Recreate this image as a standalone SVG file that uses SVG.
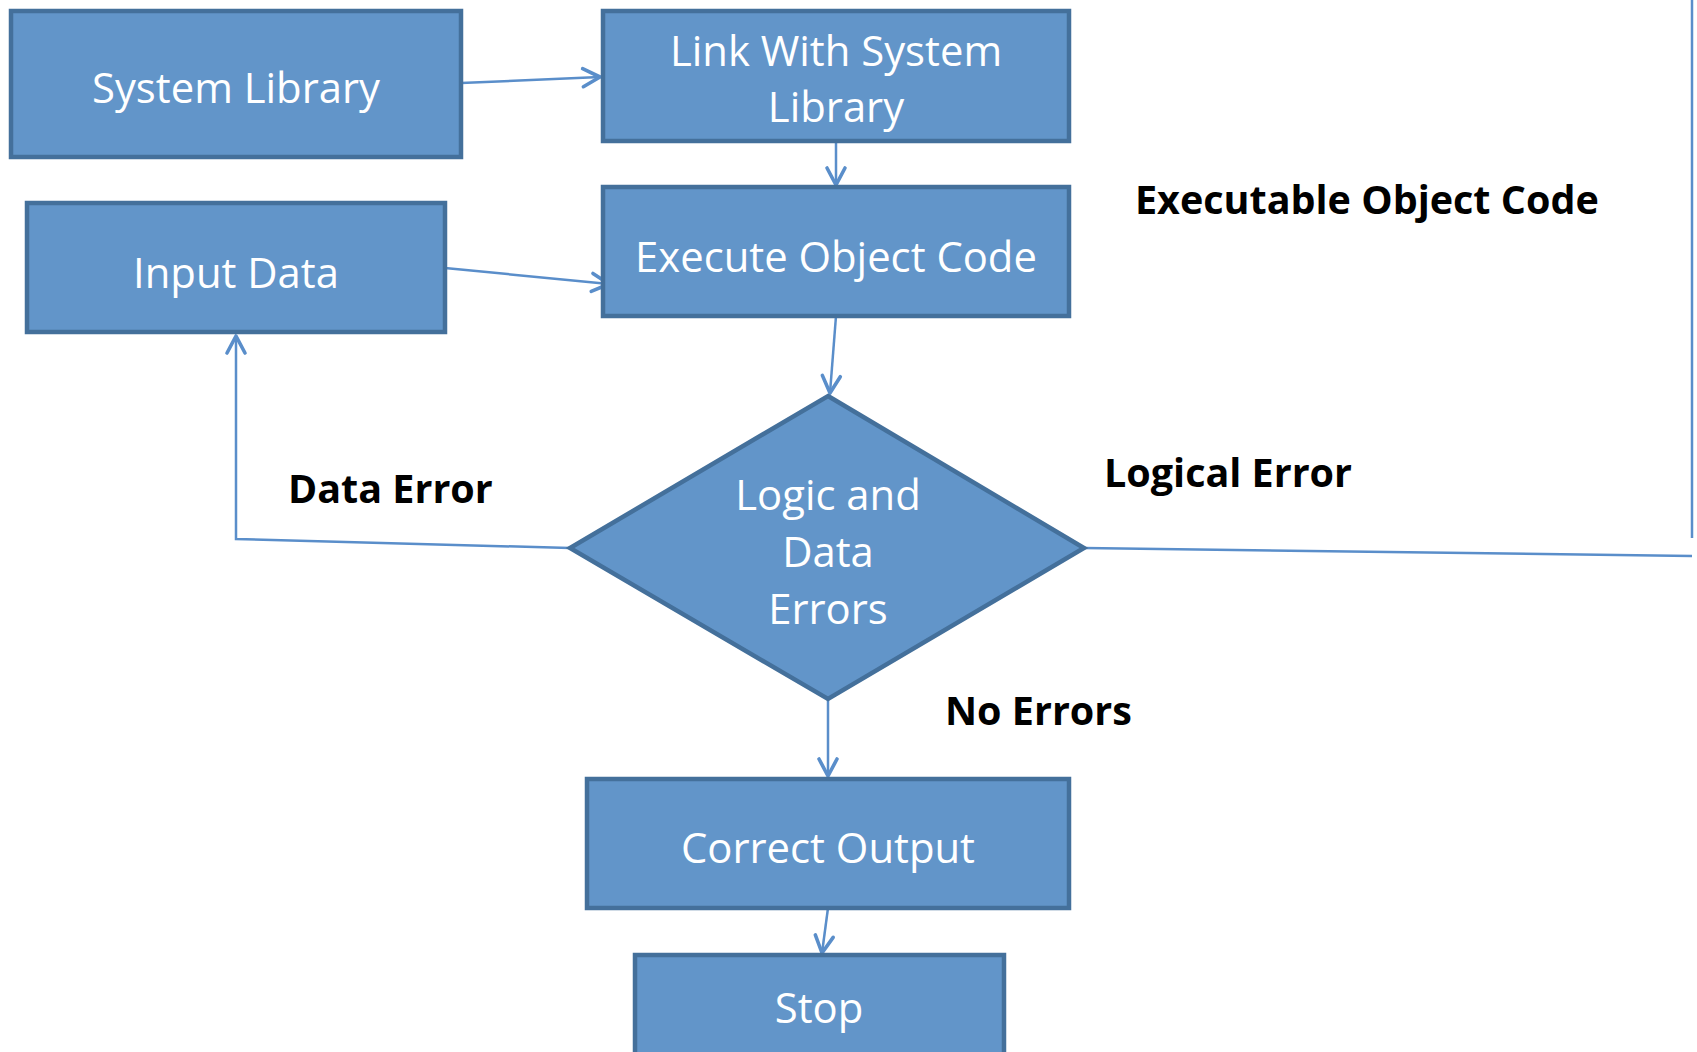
<svg xmlns="http://www.w3.org/2000/svg" width="1697" height="1052" viewBox="0 0 1697 1052">
  <style>
    .box { fill: #6295C9; stroke: #44709B; stroke-width: 4.5; }
    .lbl { fill: #ffffff; font-family: "Open Sans", "Noto Sans", sans-serif; font-size: 41.8px; text-anchor: middle; }
    .note { fill: #000000; font-family: "Open Sans", "Noto Sans", sans-serif; font-size: 39.5px; font-weight: bold; }
    .wire { fill: none; stroke: #5A8ECA; stroke-width: 2.5; }
  </style>
  <defs>
    <marker id="arrow" viewBox="0 0 24 24" refX="21" refY="12" markerWidth="24" markerHeight="24" markerUnits="userSpaceOnUse" orient="auto">
      <path d="M4,3 L21,12 L4,21" fill="none" stroke="#5A8ECA" stroke-width="3.6" stroke-linecap="round" stroke-linejoin="round"/>
    </marker>
  </defs>
  <rect width="1697" height="1052" fill="#ffffff"/>

  <!-- connectors -->
  <g id="connectors">
    <line class="wire" x1="461" y1="83" x2="600" y2="77" marker-end="url(#arrow)"/>
    <line class="wire" x1="836" y1="141" x2="836" y2="185" marker-end="url(#arrow)"/>
    <line class="wire" x1="445" y1="268" x2="609" y2="284" marker-end="url(#arrow)"/>
    <line class="wire" x1="836" y1="316" x2="830" y2="393" marker-end="url(#arrow)"/>
    <polyline class="wire" points="570,548 236,539 236,336" marker-end="url(#arrow)"/>
    <line class="wire" x1="1084" y1="548" x2="1692" y2="556"/>
    <line class="wire" x1="1692" y1="0" x2="1692" y2="538"/>
    <line class="wire" x1="828" y1="699" x2="828" y2="776" marker-end="url(#arrow)"/>
    <line class="wire" x1="828" y1="908" x2="822" y2="953" marker-end="url(#arrow)"/>
  </g>

  <g id="system-library">
    <rect class="box" x="11" y="11" width="450" height="146"/>
    <text class="lbl" x="236" y="103">System Library</text>
  </g>

  <g id="link-with-system-library">
    <rect class="box" x="603" y="11" width="466" height="130"/>
    <text class="lbl" x="836" y="66">Link With System</text>
    <text class="lbl" x="836" y="122">Library</text>
  </g>

  <g id="input-data">
    <rect class="box" x="27" y="203" width="418" height="129"/>
    <text class="lbl" x="236" y="288">Input Data</text>
  </g>

  <g id="execute-object-code">
    <rect class="box" x="603" y="187" width="466" height="129"/>
    <text class="lbl" x="836" y="272">Execute Object Code</text>
  </g>

  <g id="logic-and-data-errors">
    <polygon class="box" points="828,396 1084,548 828,699 570,548"/>
    <text class="lbl" x="828" y="510">Logic and</text>
    <text class="lbl" x="828" y="567">Data</text>
    <text class="lbl" x="828" y="624">Errors</text>
  </g>

  <g id="correct-output">
    <rect class="box" x="587" y="779" width="482" height="129"/>
    <text class="lbl" x="828" y="863">Correct Output</text>
  </g>

  <g id="stop">
    <rect class="box" x="635" y="955" width="369" height="110"/>
    <text class="lbl" x="819" y="1023">Stop</text>
  </g>

  <!-- edge captions -->
  <g id="captions">
    <text class="note" x="1135" y="214">Executable Object Code</text>
    <text class="note" x="1104" y="487">Logical Error</text>
    <text class="note" x="288" y="503">Data Error</text>
    <text class="note" x="945" y="725">No Errors</text>
  </g>
</svg>
